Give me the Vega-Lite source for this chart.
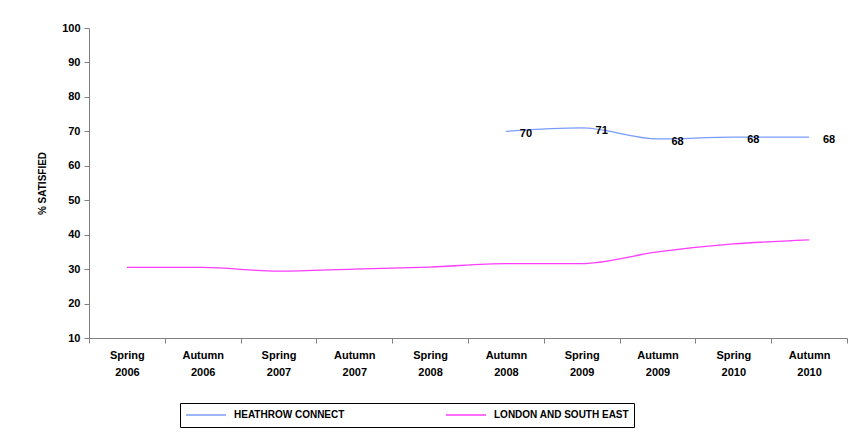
{
  "$schema": "https://vega.github.io/schema/vega-lite/v6.json",
  "width": 758,
  "height": 310,
  "autosize": {"type": "none"},
  "padding": {"left": 89, "top": 28, "right": 12, "bottom": 95},
  "background": "white",
  "config": {
    "view": {"stroke": null},
    "font": "Liberation Sans, Arial, sans-serif"
  },
  "data": {
    "values": [
      {"period": "Spring 2006", "series": "LONDON AND SOUTH EAST", "value": 30.5},
      {"period": "Autumn 2006", "series": "LONDON AND SOUTH EAST", "value": 30.5},
      {"period": "Spring 2007", "series": "LONDON AND SOUTH EAST", "value": 29.4},
      {"period": "Autumn 2007", "series": "LONDON AND SOUTH EAST", "value": 30.0},
      {"period": "Spring 2008", "series": "LONDON AND SOUTH EAST", "value": 30.6},
      {"period": "Autumn 2008", "series": "LONDON AND SOUTH EAST", "value": 31.6},
      {"period": "Spring 2009", "series": "LONDON AND SOUTH EAST", "value": 31.6},
      {"period": "Autumn 2009", "series": "LONDON AND SOUTH EAST", "value": 35.0},
      {"period": "Spring 2010", "series": "LONDON AND SOUTH EAST", "value": 37.3},
      {"period": "Autumn 2010", "series": "LONDON AND SOUTH EAST", "value": 38.5},
      {"period": "Autumn 2008", "series": "HEATHROW CONNECT", "value": 70, "label": "70"},
      {"period": "Spring 2009", "series": "HEATHROW CONNECT", "value": 71, "label": "71"},
      {"period": "Autumn 2009", "series": "HEATHROW CONNECT", "value": 67.8, "label": "68"},
      {"period": "Spring 2010", "series": "HEATHROW CONNECT", "value": 68.3, "label": "68"},
      {"period": "Autumn 2010", "series": "HEATHROW CONNECT", "value": 68.3, "label": "68"}
    ]
  },
  "encoding": {
    "x": {
      "field": "period",
      "type": "ordinal",
      "sort": ["Spring 2006", "Autumn 2006", "Spring 2007", "Autumn 2007", "Spring 2008", "Autumn 2008", "Spring 2009", "Autumn 2009", "Spring 2010", "Autumn 2010"],
      "scale": {"type": "band", "paddingInner": 0, "paddingOuter": 0},
      "axis": {
        "title": null,
        "labelAngle": 0,
        "labelExpr": "split(datum.label, ' ')",
        "labelFontSize": 11,
        "labelFontWeight": "bold",
        "labelColor": "black",
        "labelLineHeight": 17,
        "labelPadding": 6,
        "tickBand": "extent",
        "tickSize": 5,
        "tickColor": "#808080",
        "domainColor": "#808080",
        "grid": false
      }
    },
    "y": {
      "field": "value",
      "type": "quantitative",
      "scale": {"domain": [10, 100], "nice": false, "zero": false},
      "axis": {
        "title": "% SATISFIED",
        "titleFontSize": 10,
        "titleFontWeight": "bold",
        "titleColor": "black",
        "titlePadding": 14,
        "values": [10, 20, 30, 40, 50, 60, 70, 80, 90, 100],
        "labelFontSize": 11,
        "labelFontWeight": "bold",
        "labelColor": "black",
        "labelPadding": 4,
        "tickSize": 5,
        "tickColor": "#808080",
        "domainColor": "#808080",
        "grid": false
      }
    }
  },
  "layer": [
    {
      "mark": {"type": "line", "interpolate": "monotone", "strokeWidth": 1.3},
      "encoding": {
        "color": {
          "field": "series",
          "type": "nominal",
          "scale": {"domain": ["HEATHROW CONNECT", "LONDON AND SOUTH EAST"], "range": ["#7a9cff", "#ff3cff"]},
          "legend": {
            "title": null,
            "orient": "none",
            "legendX": 91,
            "legendY": 375,
            "direction": "horizontal",
            "columns": 2,
            "strokeColor": "black",
            "padding": 5,
            "clipHeight": 14,
            "symbolType": "stroke",
            "symbolSize": 1600,
            "symbolStrokeWidth": 1.3,
            "labelFontSize": 10,
            "labelFontWeight": "bold",
            "labelColor": "black",
            "labelOffset": 7,
            "columnPadding": 100
          }
        }
      }
    },
    {
      "transform": [{"filter": "datum.series == 'HEATHROW CONNECT'"}],
      "mark": {"type": "text", "dx": 20, "dy": 3, "fontSize": 11, "fontWeight": "bold", "color": "black"},
      "encoding": {"text": {"field": "label"}}
    }
  ]
}
